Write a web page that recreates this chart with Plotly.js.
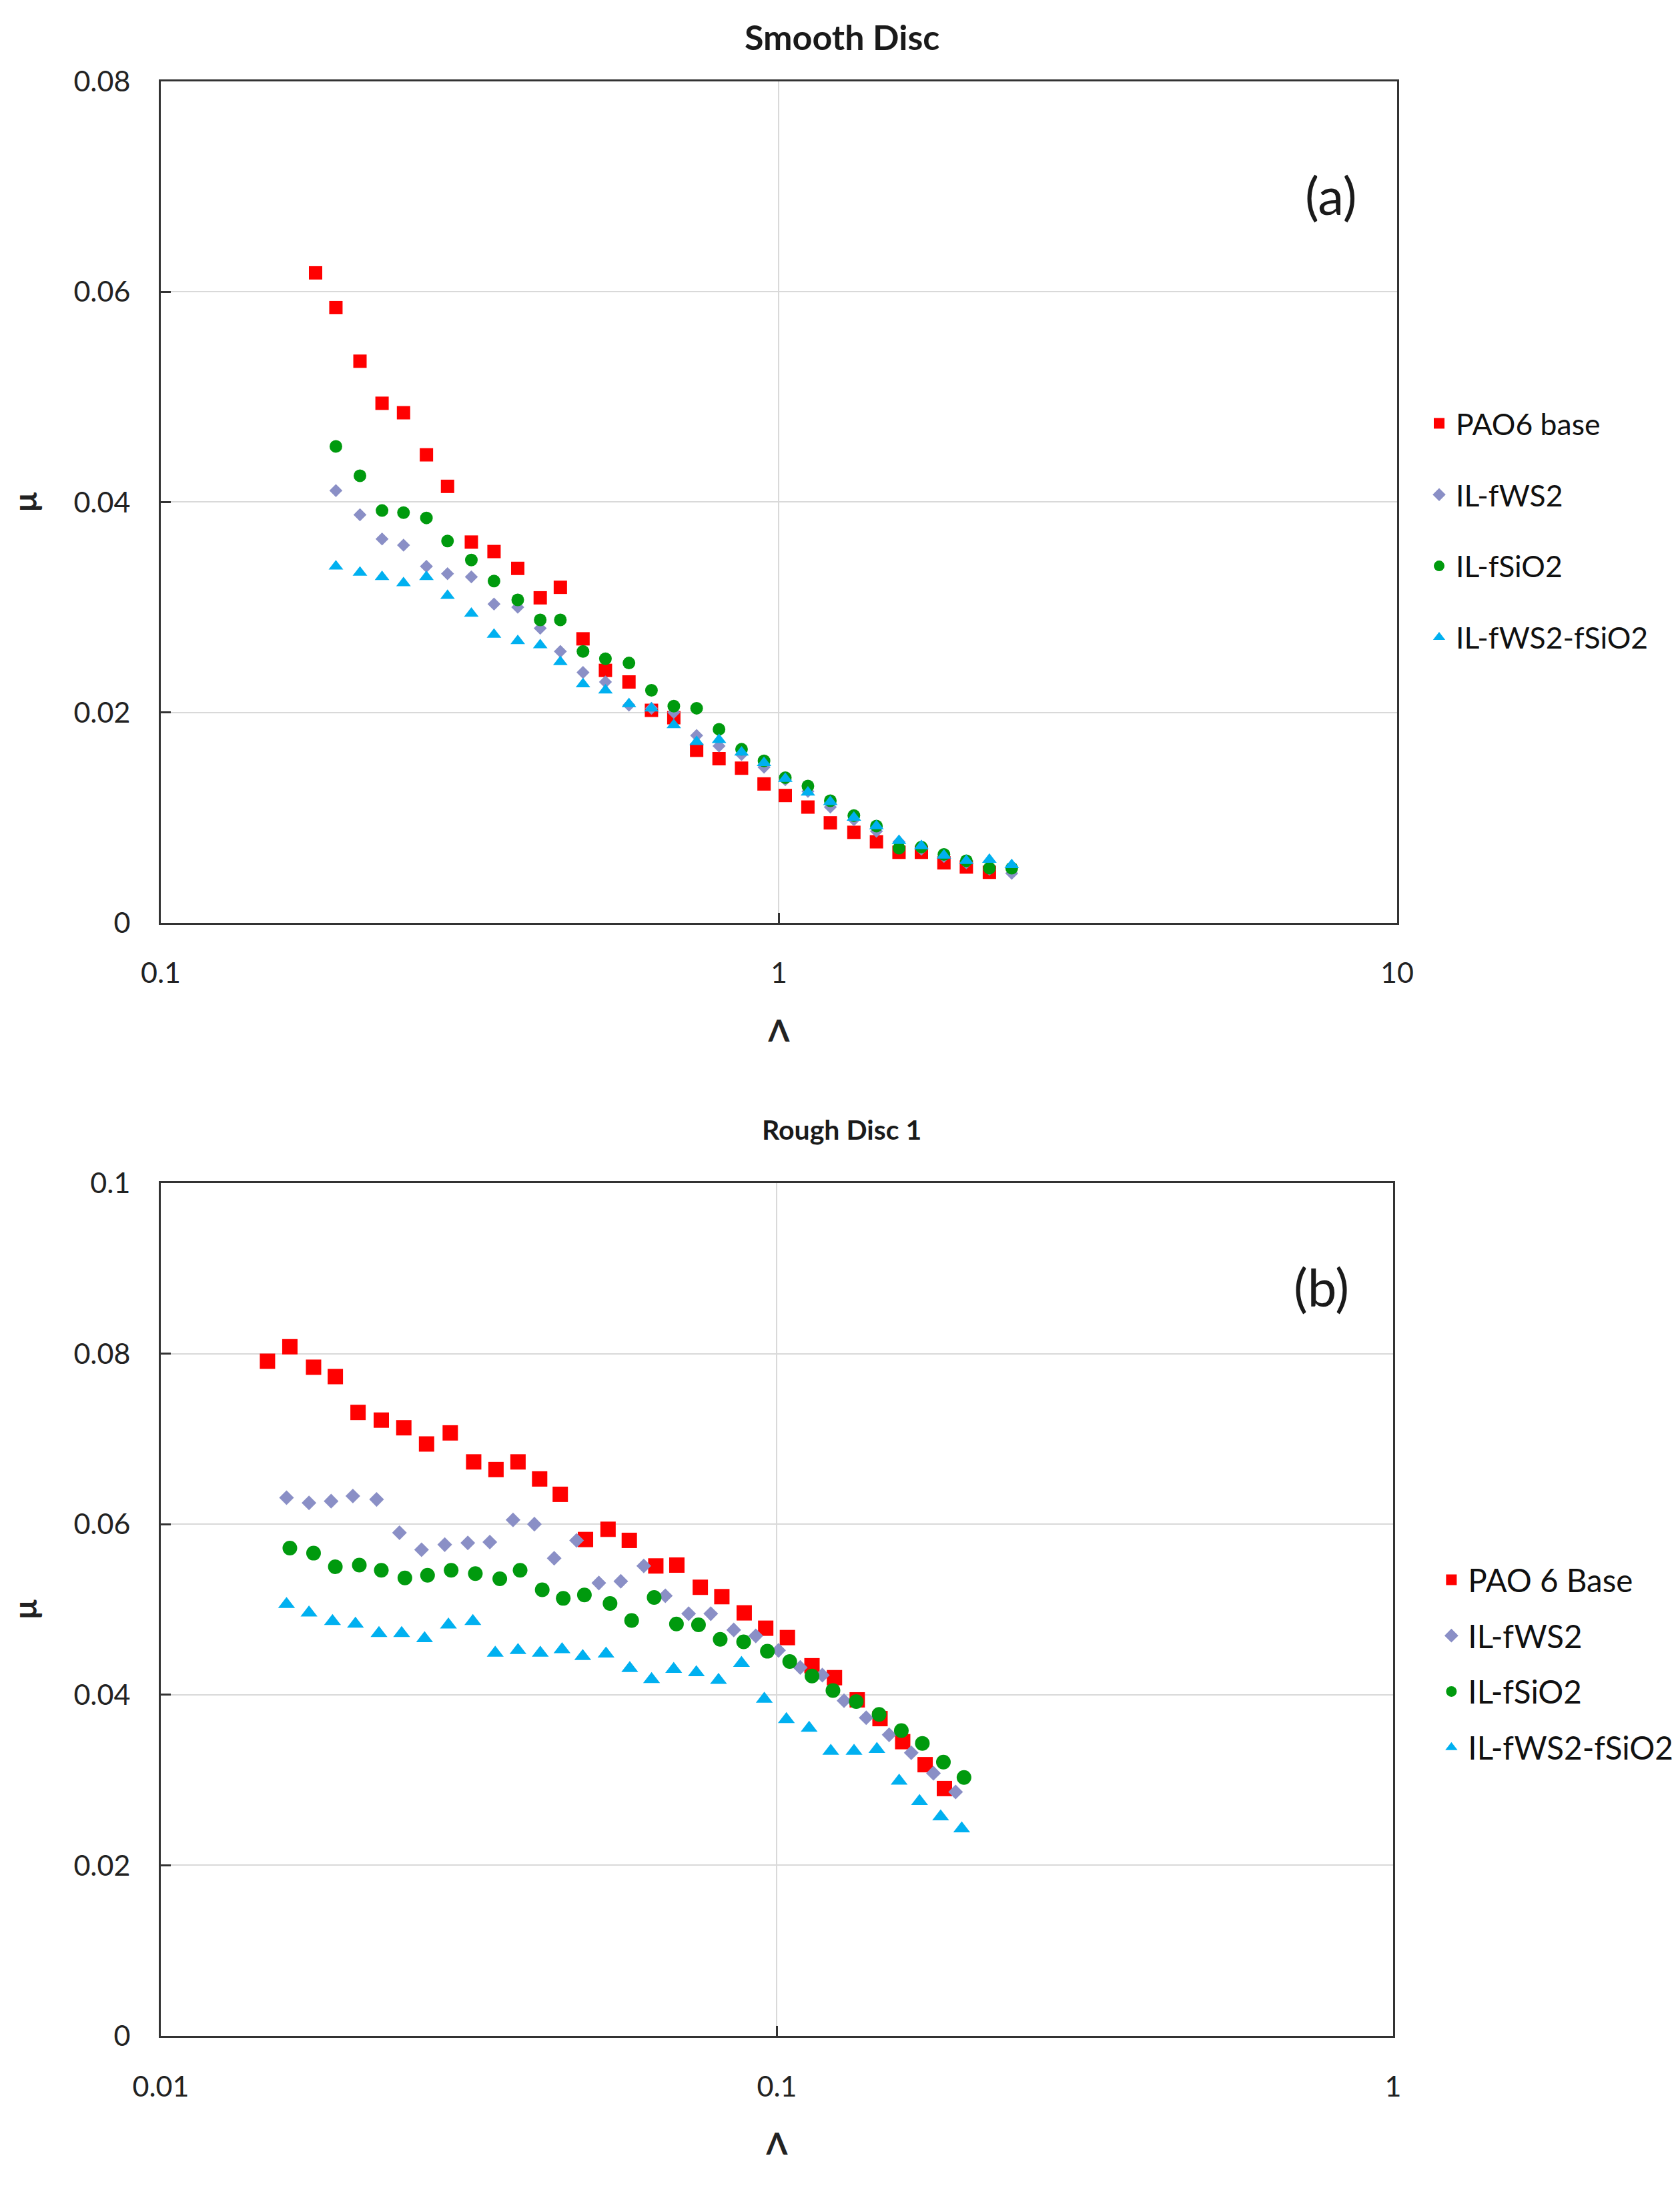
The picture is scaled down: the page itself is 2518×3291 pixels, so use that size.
<!DOCTYPE html>
<html>
<head>
<meta charset="utf-8">
<script src="https://cdn.plot.ly/plotly-3.0.1.min.js"></script>
<style>
  body { margin: 0; background: #fff; }
  #myDiv { width: 2518px; height: 3291px; }
</style>
</head>
<body>
<div id="myDiv"></div>
<script>
// (a) smooth disc - film thickness ratio and friction coefficient
let smoothLambdaPAO = [0.178, 0.192, 0.210, 0.228, 0.247, 0.269, 0.291, 0.318, 0.346, 0.378,
  0.411, 0.443, 0.482, 0.524, 0.572, 0.622, 0.676, 0.736, 0.800, 0.870,
  0.946, 1.024, 1.114, 1.211, 1.322, 1.438, 1.564, 1.700, 1.849, 2.010, 2.190];
let smoothLambdaIL = [0.192, 0.210, 0.228, 0.247, 0.269, 0.291, 0.318, 0.346, 0.378, 0.411,
  0.443, 0.482, 0.524, 0.572, 0.622, 0.676, 0.736, 0.800, 0.870, 0.946,
  1.024, 1.114, 1.211, 1.322, 1.438, 1.564, 1.700, 1.849, 2.010, 2.190, 2.380];

let smoothPAO = [0.0618, 0.0585, 0.0534, 0.0494, 0.0485, 0.0445, 0.0415, 0.0362, 0.0353, 0.0337,
  0.0309, 0.0319, 0.0270, 0.0240, 0.0229, 0.0202, 0.0195, 0.0164, 0.0156, 0.0147,
  0.0132, 0.0121, 0.0110, 0.0095, 0.0086, 0.0077, 0.0067, 0.0067, 0.0057, 0.0053, 0.0048];
let smoothWS2 = [0.0411, 0.0388, 0.0365, 0.0359, 0.0339, 0.0332, 0.0329, 0.0303, 0.0300, 0.0280,
  0.0258, 0.0238, 0.0229, 0.0207, 0.0204, 0.0200, 0.0178, 0.0168, 0.0160, 0.0148,
  0.0136, 0.0125, 0.0110, 0.0098, 0.0087, 0.0077, 0.0070, 0.0063, 0.0057, 0.0051, 0.0047];
let smoothSiO2 = [0.0453, 0.0425, 0.0392, 0.0390, 0.0385, 0.0363, 0.0345, 0.0325, 0.0307, 0.0288,
  0.0288, 0.0258, 0.0251, 0.0247, 0.0221, 0.0206, 0.0204, 0.0184, 0.0165, 0.0154,
  0.0138, 0.0130, 0.0116, 0.0102, 0.0092, 0.0071, 0.0072, 0.0065, 0.0059, 0.0052, 0.0052];
let smoothWS2SiO2 = [0.0339, 0.0333, 0.0329, 0.0323, 0.0329, 0.0311, 0.0294, 0.0274, 0.0268, 0.0264,
  0.0248, 0.0227, 0.0221, 0.0208, 0.0204, 0.0188, 0.0172, 0.0174, 0.0162, 0.0152,
  0.0137, 0.0124, 0.0115, 0.0100, 0.0092, 0.0078, 0.0073, 0.0064, 0.0059, 0.0060, 0.0055];

// (b) rough disc 1
let roughLambdaPAO = [0.0149, 0.0162, 0.0177, 0.0192, 0.0209, 0.0228, 0.0248, 0.0270, 0.0295, 0.0322,
  0.0350, 0.0380, 0.0412, 0.0445, 0.0489, 0.0532, 0.0576, 0.0636, 0.0688, 0.0751,
  0.0814, 0.0885, 0.0959, 0.1040, 0.1140, 0.1240, 0.1350, 0.1470, 0.1600, 0.1740, 0.1870];
let roughLambdaWS2 = [0.0160, 0.0174, 0.0189, 0.0205, 0.0224, 0.0244, 0.0265, 0.0289, 0.0315, 0.0342,
  0.0373, 0.0404, 0.0435, 0.0473, 0.0514, 0.0558, 0.0608, 0.0659, 0.0719, 0.0781,
  0.0851, 0.0924, 0.1006, 0.1091, 0.1185, 0.1285, 0.1396, 0.1521, 0.1652, 0.1795, 0.1950];
let roughLambdaSiO2 = [0.0162, 0.0177, 0.0192, 0.0210, 0.0228, 0.0249, 0.0271, 0.0296, 0.0324, 0.0355,
  0.0383, 0.0416, 0.0450, 0.0487, 0.0536, 0.0581, 0.0632, 0.0687, 0.0746, 0.0809,
  0.0883, 0.0965, 0.1049, 0.1140, 0.1233, 0.1345, 0.1465, 0.1592, 0.1722, 0.1863, 0.2012];
let roughLambdaWS2SiO2 = [0.0160, 0.0174, 0.0190, 0.0207, 0.0226, 0.0246, 0.0268, 0.0293, 0.0321, 0.0349,
  0.0380, 0.0413, 0.0448, 0.0484, 0.0528, 0.0577, 0.0626, 0.0680, 0.0740, 0.0804,
  0.0876, 0.0954, 0.1036, 0.1128, 0.1223, 0.1334, 0.1453, 0.1579, 0.1704, 0.1844, 0.1995];

let roughPAO = [0.0791, 0.0808, 0.0784, 0.0773, 0.0731, 0.0722, 0.0713, 0.0694, 0.0707, 0.0673,
  0.0664, 0.0673, 0.0653, 0.0635, 0.0582, 0.0594, 0.0581, 0.0551, 0.0552, 0.0526,
  0.0515, 0.0496, 0.0478, 0.0467, 0.0434, 0.0420, 0.0394, 0.0372, 0.0345, 0.0318, 0.0290];
let roughWS2 = [0.0631, 0.0625, 0.0627, 0.0633, 0.0629, 0.0590, 0.0570, 0.0576, 0.0578, 0.0579,
  0.0605, 0.0600, 0.0560, 0.0581, 0.0531, 0.0533, 0.0551, 0.0516, 0.0495, 0.0495,
  0.0476, 0.0469, 0.0452, 0.0432, 0.0423, 0.0393, 0.0373, 0.0353, 0.0332, 0.0308, 0.0286];
let roughSiO2 = [0.0572, 0.0566, 0.0550, 0.0552, 0.0546, 0.0537, 0.0540, 0.0546, 0.0542, 0.0536,
  0.0546, 0.0523, 0.0513, 0.0517, 0.0507, 0.0487, 0.0514, 0.0483, 0.0482, 0.0465,
  0.0462, 0.0451, 0.0439, 0.0422, 0.0405, 0.0392, 0.0377, 0.0358, 0.0343, 0.0321, 0.0303];
let roughWS2SiO2 = [0.0506, 0.0496, 0.0486, 0.0483, 0.0472, 0.0472, 0.0466, 0.0482, 0.0486, 0.0449,
  0.0452, 0.0449, 0.0453, 0.0445, 0.0448, 0.0431, 0.0418, 0.0430, 0.0426, 0.0417,
  0.0437, 0.0395, 0.0371, 0.0361, 0.0334, 0.0334, 0.0336, 0.0299, 0.0275, 0.0257, 0.0243];

let namesSmooth = ["PAO6 base", "IL-fWS2", "IL-fSiO2", "IL-fWS2-fSiO2"];
let namesRough = ["PAO 6 Base", "IL-fWS2", "IL-fSiO2", "IL-fWS2-fSiO2"];
let xTicksSmooth = [0.1, 1, 10];
let xTicksRough = [0.01, 0.1, 1];

let colors = ["#ff0000", "#8a8fc6", "#009a0e", "#00b0f0"];
let symbols = ["square", "diamond", "circle", "triangle-up"];
let FONT = "Lato, 'Open Sans', sans-serif";

function makeTrace(x, y, i, panel) {
  let big = panel === "b";
  let sizesA = [20, 15, 19, 19];
  let sizesB = [23, 17, 22, 22];
  return {
    x: x,
    y: y,
    type: "scatter",
    mode: "markers",
    name: big ? namesRough[i] : namesSmooth[i],
    legendgroup: panel + i,
    legend: big ? "legend2" : "legend",
    xaxis: big ? "x2" : "x",
    yaxis: big ? "y2" : "y",
    marker: {
      color: colors[i],
      symbol: symbols[i],
      size: big ? sizesB[i] : sizesA[i],
      line: { width: 0 }
    }
  };
}

function axisX(range, ticks, domain, anchor) {
  return {
    type: "log",
    range: range,
    domain: domain,
    anchor: anchor,
    tickvals: ticks,
    ticktext: ticks.map(String),
    ticks: "inside",
    ticklen: 15,
    tickwidth: 3,
    tickcolor: "#333",
    ticklabelstandoff: 36,
    tickfont: { family: FONT, size: 43, color: "#222" },
    showline: true,
    linewidth: 3,
    linecolor: "#333",
    mirror: true,
    showgrid: true,
    gridcolor: "#d9d9d9",
    gridwidth: 2,
    zeroline: false,
    title: { text: "Λ", font: { family: FONT, size: 46, weight: "bold", color: "#222" }, standoff: 48 }
  };
}

function axisY(range, domain, anchor) {
  return {
    range: range,
    domain: domain,
    anchor: anchor,
    dtick: 0.02,
    ticks: "inside",
    ticklen: 15,
    tickwidth: 3,
    tickcolor: "#333",
    ticklabelstandoff: 34,
    tickfont: { family: FONT, size: 43, color: "#222" },
    showline: true,
    linewidth: 3,
    linecolor: "#333",
    mirror: true,
    showgrid: true,
    gridcolor: "#d9d9d9",
    gridwidth: 2,
    zeroline: false,
    title: { text: "μ", font: { family: FONT, size: 48, weight: "bold", color: "#222" }, standoff: 40 }
  };
}

function legendBox(x, y, size, gap) {
  return {
    x: x,
    y: y,
    xanchor: "left",
    yanchor: "top",
    traceorder: "grouped",
    tracegroupgap: gap,
    itemwidth: 40,
    bgcolor: "rgba(0,0,0,0)",
    font: { family: FONT, size: size, color: "#111" }
  };
}

function label(text, x, y, size, bold) {
  return {
    text: text, x: x, y: y, xref: "paper", yref: "paper",
    xanchor: "center", yanchor: "middle", showarrow: false,
    font: { family: FONT, size: size, weight: bold ? "bold" : "normal", color: "#1a1a1a" }
  };
}

function drawChart() {
  let data = [
    makeTrace(smoothLambdaPAO, smoothPAO, 0, "a"),
    makeTrace(smoothLambdaIL, smoothWS2, 1, "a"),
    makeTrace(smoothLambdaIL, smoothSiO2, 2, "a"),
    makeTrace(smoothLambdaIL, smoothWS2SiO2, 3, "a"),
    makeTrace(roughLambdaPAO, roughPAO, 0, "b"),
    makeTrace(roughLambdaWS2, roughWS2, 1, "b"),
    makeTrace(roughLambdaSiO2, roughSiO2, 2, "b"),
    makeTrace(roughLambdaWS2SiO2, roughWS2SiO2, 3, "b")
  ];

  let layout = {
    width: 2518,
    height: 3291,
    margin: { l: 0, r: 0, t: 0, b: 0 },
    paper_bgcolor: "#fff",
    plot_bgcolor: "#fff",
    showlegend: true,
    xaxis: axisX([-1, 1], xTicksSmooth, [0.0957, 0.8316], "y"),
    yaxis: axisY([0, 0.08], [0.5798, 0.9629], "x"),
    xaxis2: axisX([-2, 0], xTicksRough, [0.0957, 0.8292], "y2"),
    yaxis2: axisY([0, 0.1], [0.0729, 0.4613], "x2"),
    legend: legendBox(0.8467, 0.818, 44.5, 46),
    legend2: legendBox(0.854, 0.292, 47.5, 19),
    annotations: [
      label("Smooth Disc", 0.5012, 0.9833, 52, true),
      label("Rough Disc 1", 0.5008, 0.4856, 41, true),
      label("(a)", 0.7923, 0.9113, 78, false),
      label("(b)", 0.7867, 0.4142, 78, false)
    ]
  };

  Plotly.newPlot("myDiv", data, layout, { staticPlot: true });
}

drawChart();
</script>
</body>
</html>
